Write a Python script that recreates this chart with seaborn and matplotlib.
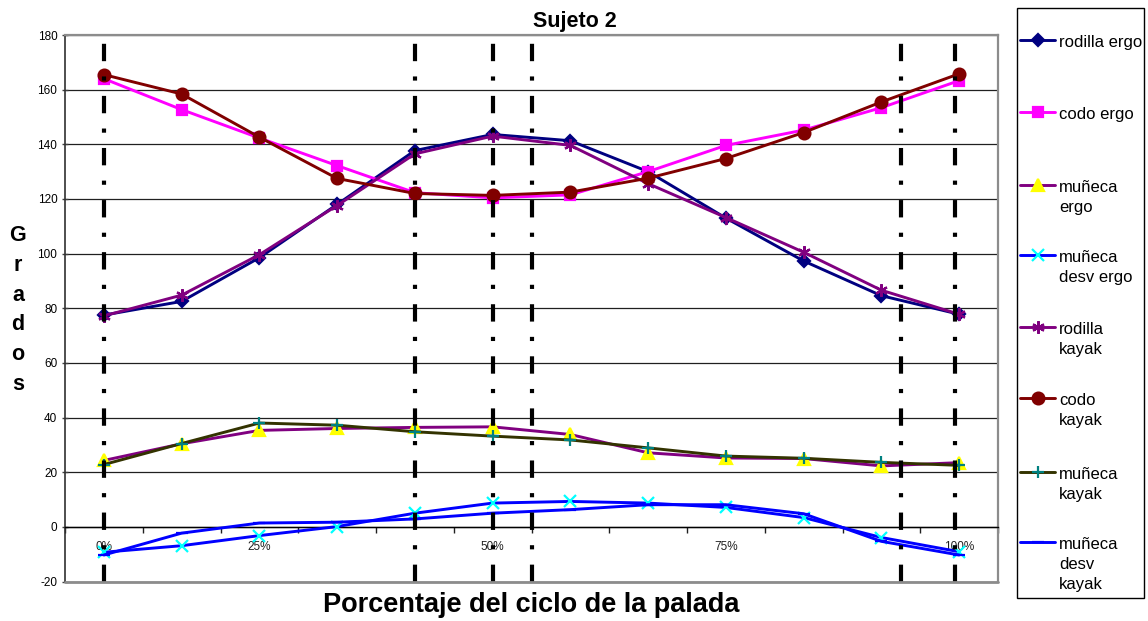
import pandas as pd
import matplotlib.pyplot as plt
import seaborn as sns
from matplotlib.lines import Line2D
from matplotlib.patches import Rectangle

# valores (12 puntos del ciclo)
puntos = list(range(12))
etiquetas_x = ["0%", "", "25%", "", "", "50%", "", "", "75%", "", "", "100%"]

rodilla_ergo = [77.5, 82.5, 98.5, 118, 137.7, 143.6, 141.3, 130, 113, 97.3, 84.6, 77.8]
codo_ergo = [164, 152.7, 142.3, 132.2, 122.3, 120.4, 121.5, 130, 139.6, 145.2, 153.4, 163.3]
muneca_ergo = [24.3, 30.4, 35.3, 36, 36.4, 36.6, 33.8, 27.1, 25.2, 25, 22.3, 23.5]
muneca_desv_ergo = [-9.3, -6.9, -3.2, 0.1, 5, 8.7, 9.3, 8.7, 7.1, 3.4, -3.9, -9.1]
rodilla_kayak = [77.2, 84.8, 99.6, 117.6, 136.5, 143, 139.6, 125.6, 113.2, 100.5, 86.6, 77.8]
codo_kayak = [165.5, 158.4, 142.6, 127.5, 122, 121.3, 122.5, 127.6, 134.8, 144.3, 155.5, 165.8]
muneca_kayak = [22.8, 30.5, 38, 37.2, 34.8, 33.2, 31.8, 28.9, 25.9, 25.1, 23.6, 22.5]
muneca_desv_kayak = [-10.3, -2.3, 1.4, 1.7, 2.9, 5, 6.3, 8.1, 8.1, 4.8, -5.3, -10.3]

series = ["rodilla ergo", "codo ergo", "muñeca\nergo", "muñeca\ndesv ergo",
          "rodilla\nkayak", "codo\nkayak", "muñeca\nkayak", "muñeca\ndesv\nkayak"]
valores = [rodilla_ergo, codo_ergo, muneca_ergo, muneca_desv_ergo,
           rodilla_kayak, codo_kayak, muneca_kayak, muneca_desv_kayak]

# lineas verticales de fases (en unidades de categoria)
fases = [0, 4, 5, 5.5, 10.25, 10.95]

# estilo de cada serie: color linea, marcador, color marcador, tamano
estilos = [
    ("#000080", "D", "#000080", 6.5),
    ("#FF00FF", "s", "#FF00FF", 7.5),
    ("#800080", "^", "#FFFF00", 8.5),
    ("#0000FF", "x", "#00FFFF", 8),
    ("#800080", (6, 2, 0), "#800080", 9),
    ("#800000", "o", "#800000", 8.5),
    ("#333300", "+", "#008080", 9),
    ("#0000FF", "_", "#0000FF", 8),
]

df = pd.DataFrame({
    "punto": puntos * len(series),
    "grados": sum(valores, []),
    "serie": [s for s in series for _ in puntos],
})

sns.set_theme(style="white")
plt.rcParams["font.family"] = ["Liberation Sans", "DejaVu Sans"]
plt.rcParams["lines.scale_dashes"] = False
plt.rcParams["axes.unicode_minus"] = False
plt.rcParams["text.color"] = "black"

fig = plt.figure(figsize=(11.48, 6.21), dpi=100)
W, H = 1148, 621
ax = fig.add_axes([65 / W, 1 - 581.5 / H, 933 / W, 546.5 / H])

for s, (col, mk, mcol, ms) in zip(series, estilos):
    sns.lineplot(data=df[df["serie"] == s], x="punto", y="grados", ax=ax,
                 color=col, linewidth=2.1, marker=mk, markersize=ms,
                 markerfacecolor=mcol, markeredgecolor=mcol, markeredgewidth=1.6,
                 estimator=None, errorbar=None, legend=False, zorder=3)

for xf in fases:
    ax.axvline(xf, color="black", linewidth=3, linestyle=(0, (12.5, 11, 3, 11)),
               solid_capstyle="butt", dash_capstyle="butt", zorder=4)

ax.set_xlim(-0.5, 11.5)
ax.set_ylim(-20, 180)
ax.set_yticks(range(-20, 181, 20))
ax.tick_params(axis="y", labelsize=8.5, direction="inout", length=5, width=1,
               color="#404040", pad=3, labelcolor="black", left=True)
ax.yaxis.grid(True, color="#202020", linewidth=0.9)
ax.set_axisbelow(True)

ax.set_xticks(puntos)
ax.set_xticklabels(etiquetas_x)
ax.set_xticks([p - 0.5 for p in puntos] + [11.5], minor=True)
ax.tick_params(axis="x", which="major", length=0, pad=10, labelsize=8.5,
               labelcolor="#202020", bottom=True)
ax.tick_params(axis="x", which="minor", length=4, width=1, direction="out",
               color="#202020", bottom=True)

ax.spines["bottom"].set_position(("data", 0))
ax.spines["bottom"].set_color("black")
ax.spines["bottom"].set_linewidth(1)
ax.spines["left"].set_color("#303030")
ax.spines["left"].set_linewidth(1.2)
for lado in ["top", "right"]:
    ax.spines[lado].set_color("#8c8c8c")
    ax.spines[lado].set_linewidth(1.6)
ax.axhline(-20, color="#8c8c8c", linewidth=2, zorder=5, clip_on=False)

ax.set_xlabel("")
ax.set_ylabel("")

fig.text(575 / W, 1 - 22 / H, "Sujeto 2", fontsize=15.5, fontweight="bold",
         ha="center", va="center")
fig.text(531 / W, 1 - 605 / H, "Porcentaje del ciclo de la palada", fontsize=19.5,
         fontweight="bold", ha="center", va="center")
fig.text(18 / W, 1 - 310 / H, "G\nr\na\nd\no\ns", fontsize=15.5, fontweight="bold",
         ha="center", va="center", linespacing=1.55)

# leyenda dibujada a mano como en el original
fig.add_artist(Rectangle((1017 / W, 1 - 598 / H), 127 / W, 590 / H, transform=fig.transFigure,
                         facecolor="white", edgecolor="black", linewidth=1))
ys = [40, 111.7, 185, 255, 326.7, 398, 471.7, 542]
for s, (col, mk, mcol, ms), yy in zip(series, estilos, ys):
    fig.add_artist(Line2D([1020 / W, 1055 / W], [1 - yy / H, 1 - yy / H],
                          transform=fig.transFigure, color=col, linewidth=2.1))
    fig.add_artist(Line2D([1037.5 / W], [1 - yy / H], transform=fig.transFigure,
                          marker=mk, markersize=ms, markerfacecolor=mcol,
                          markeredgecolor=mcol, markeredgewidth=1.6, linestyle="none"))
    fig.text(1059 / W, 1 - (yy - 5) / H, s, fontsize=12, ha="left", va="top",
             linespacing=1.4)

plt.savefig("out.png", dpi=100)
